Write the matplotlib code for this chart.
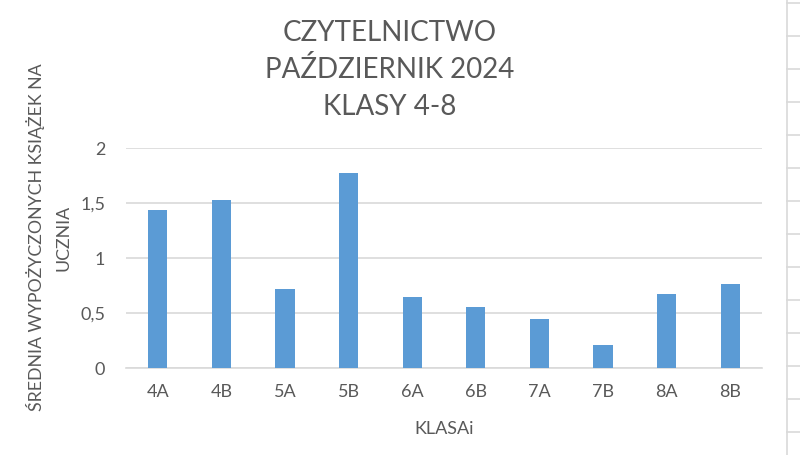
import matplotlib
matplotlib.use('Agg')
import matplotlib.pyplot as plt
from matplotlib.lines import Line2D
from matplotlib.ticker import FuncFormatter

classes = ['4A', '4B', '5A', '5B', '6A', '6B', '7A', '7B', '8A', '8B']
avg_books = [1.44, 1.53, 0.72, 1.78, 0.645, 0.557, 0.45, 0.21, 0.675, 0.765]
y_ticks = [0, 0.5, 1, 1.5, 2]

title_lines = ['CZYTELNICTWO', 'PAŹDZIERNIK 2024', 'KLASY 4-8']
ylabel_lines = ['ŚREDNIA WYPOŻYCZONYCH KSIĄŻEK NA', 'UCZNIA']
xlabel = 'KLASAi'

plt.rcParams['font.family'] = ['Lato', 'DejaVu Sans']
grey = '#595959'
grid_grey = '#d9d9d9'

W, H = 800, 455
fig = plt.figure(figsize=(W / 100, H / 100), dpi=100)
ax = fig.add_axes([126 / W, 1 - 368.3 / H, (762 - 126) / W, (368.3 - 148.3) / H])

ax.bar(range(len(classes)), avg_books, width=0.3, color='#5b9bd5', zorder=3)
ax.set_xlim(-0.5, len(classes) - 0.5)
ax.set_ylim(0, 2)
ax.set_yticks(y_ticks)
ax.yaxis.set_major_formatter(FuncFormatter(lambda v, p: f'{v:g}'.replace('.', ',')))
ax.set_xticks(range(len(classes)))
ax.set_xticklabels(classes)
ax.grid(axis='y', color=grid_grey, linewidth=1.2, zorder=0)
for s in ['top', 'right', 'left']:
    ax.spines[s].set_visible(False)
ax.spines['bottom'].set_color(grid_grey)
ax.spines['bottom'].set_linewidth(1.2)
ax.tick_params(length=0, labelsize=13, colors=grey)
ax.tick_params(axis='x', pad=11)
ax.tick_params(axis='y', pad=15)

# title, three lines
for i, line in enumerate(title_lines):
    fig.text(390 / W, 1 - (33 + i * 37) / H, line, ha='center', va='center',
             fontsize=20, color=grey)

# y label, two lines
fig.text(36 / W, 1 - 237 / H, ylabel_lines[0], rotation=90, ha='center', va='center',
         fontsize=12.8, color=grey)
fig.text(64 / W, 1 - 238 / H, ylabel_lines[1], rotation=90, ha='center', va='center',
         fontsize=12.8, color=grey)
fig.text(444 / W, 1 - 429 / H, xlabel, ha='center', va='center', fontsize=13, color=grey)

# spreadsheet cell borders at the right edge
fig.add_artist(Line2D([787 / W, 787 / W], [0, 1], color=grid_grey, linewidth=1.2))
for k in range(14):
    y = 1 - (3.3 + k * 33.0) / H
    fig.add_artist(Line2D([787 / W, 1], [y, y], color=grid_grey, linewidth=1.2))

fig.savefig('out.png', dpi=100, facecolor='white')
